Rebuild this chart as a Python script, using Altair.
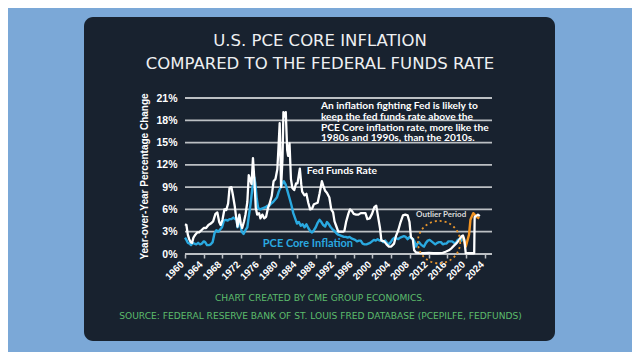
import altair as alt
import pandas as pd

# ---------------- data ----------------
ff_year = [1960.0, 1960.3, 1960.6, 1960.9, 1961.2, 1961.5, 1961.8, 1962.2, 1962.6, 1963.0,
           1963.5, 1964.0, 1964.5, 1965.0, 1965.5, 1966.0, 1966.5, 1966.9, 1967.3, 1967.6,
           1968.0, 1968.4, 1968.8, 1969.2, 1969.5, 1969.9, 1970.2, 1970.6, 1970.9, 1971.2,
           1971.6, 1971.9, 1972.2, 1972.6, 1972.9, 1973.3, 1973.6, 1973.9, 1974.2, 1974.5,
           1974.8, 1975.1, 1975.4, 1975.8, 1976.1, 1976.5, 1976.9, 1977.3, 1977.7, 1978.0,
           1978.5, 1978.9, 1979.3, 1979.7, 1979.9, 1980.2, 1980.5, 1980.8, 1981.0, 1981.3,
           1981.5, 1981.8, 1982.0, 1982.3, 1982.6, 1982.9, 1983.3, 1983.7, 1984.0, 1984.5,
           1984.8, 1985.0, 1985.5, 1985.9, 1986.3, 1986.7, 1987.1, 1987.5, 1987.9, 1988.3,
           1988.7, 1989.2, 1989.5, 1989.9, 1990.3, 1990.8, 1991.2, 1991.6, 1991.9, 1992.3,
           1992.7, 1993.2, 1993.7, 1994.0, 1994.4, 1994.9, 1995.2, 1995.6, 1996.0, 1996.5,
           1997.0, 1997.5, 1998.0, 1998.5, 1998.9, 1999.4, 1999.9, 2000.4, 2000.8, 2001.2,
           2001.6, 2001.9, 2002.5, 2003.0, 2003.5, 2004.0, 2004.6, 2005.0, 2005.5, 2006.0,
           2006.5, 2007.0, 2007.5, 2007.9, 2008.2, 2008.6, 2008.9, 2009.3, 2010.0, 2011.0,
           2012.0, 2013.0, 2014.0, 2015.0, 2015.6, 2016.3, 2016.9, 2017.5, 2018.0, 2018.5,
           2019.0, 2019.3, 2019.6, 2019.9, 2020.5, 2021.0, 2021.7, 2021.8, 2022.5, 2022.9]
ff_val = [4.0, 3.9, 2.6, 2.0, 1.6, 1.5, 2.2, 2.6, 2.9, 2.9,
          3.2, 3.5, 3.5, 3.9, 4.1, 4.4, 5.4, 5.6, 4.3, 3.9,
          4.6, 6.0, 5.9, 6.8, 8.9, 9.0, 8.0, 6.5, 5.0, 3.7,
          5.3, 4.1, 3.5, 4.4, 5.3, 7.0, 10.6, 10.0, 9.4, 12.9,
          10.0, 6.2, 5.3, 5.5, 4.8, 5.3, 4.8, 5.0, 6.2, 6.7,
          7.8, 9.8, 10.1, 11.4, 13.8, 17.6, 9.0, 12.8, 19.1, 18.5,
          19.1, 14.0, 13.2, 14.9, 10.1, 8.9, 8.6, 9.5, 9.5, 11.5,
          9.4, 8.4, 7.9, 8.1, 6.9, 6.0, 6.1, 6.7, 6.8, 6.9,
          8.1, 9.8, 9.2, 8.5, 8.2, 7.6, 6.0, 5.6, 4.4, 3.7,
          3.0, 3.0, 3.0, 3.1, 4.4, 5.5, 6.0, 5.8, 5.4, 5.3,
          5.3, 5.5, 5.5, 5.5, 4.7, 4.8, 5.4, 6.3, 6.5, 5.0,
          3.5, 1.8, 1.7, 1.3, 1.0, 1.0, 1.4, 2.4, 3.2, 4.3,
          5.2, 5.3, 5.2, 4.3, 2.3, 2.0, 0.5, 0.2, 0.15, 0.1,
          0.15, 0.1, 0.1, 0.15, 0.3, 0.5, 0.8, 1.2, 1.5, 1.9,
          2.4, 2.5, 1.9, 0.1, 0.1, 0.1, 0.1, 5.0, 5.3, 5.1]

pce_year = [1960.0, 1960.3, 1960.6, 1961.0, 1961.3, 1961.6, 1962.0, 1962.4, 1962.8, 1963.2,
            1963.6, 1964.0, 1964.3, 1964.7, 1965.1, 1965.5, 1965.9, 1966.3, 1966.7, 1967.1,
            1967.5, 1967.9, 1968.3, 1968.7, 1969.1, 1969.5, 1969.9, 1970.3, 1970.7, 1971.0,
            1971.2, 1971.5, 1971.8, 1972.1, 1972.5, 1972.9, 1973.3, 1973.6, 1974.0, 1974.4,
            1974.8, 1975.0, 1975.3, 1975.6, 1976.0, 1976.4, 1976.8, 1977.2, 1977.6, 1978.0,
            1978.4, 1978.8, 1979.2, 1979.6, 1980.0, 1980.4, 1980.8, 1981.1, 1981.5, 1981.9,
            1982.3, 1982.7, 1983.1, 1983.5, 1983.9, 1984.3, 1984.7, 1985.1, 1985.5, 1985.9,
            1986.3, 1986.7, 1987.1, 1987.5, 1987.9, 1988.3, 1988.7, 1989.1, 1989.5, 1989.9,
            1990.3, 1990.7, 1991.1, 1991.5, 1991.9, 1992.3, 1992.7, 1993.1, 1993.5, 1993.9,
            1994.3, 1994.7, 1995.1, 1995.5, 1995.9, 1996.3, 1996.7, 1997.1, 1997.5, 1997.9,
            1998.3, 1998.7, 1999.1, 1999.5, 1999.9, 2000.3, 2000.7, 2001.1, 2001.5, 2001.9,
            2002.3, 2002.7, 2003.1, 2003.5, 2003.9, 2004.3, 2004.7, 2005.1, 2005.5, 2005.9,
            2006.3, 2006.7, 2007.1, 2007.5, 2007.9, 2008.3, 2008.7, 2009.0, 2009.3, 2009.6,
            2009.9, 2010.3, 2010.7, 2011.0, 2011.4, 2011.8, 2012.2, 2012.6, 2013.0, 2013.4,
            2013.8, 2014.2, 2014.6, 2015.0, 2015.4, 2015.8, 2016.2, 2016.6, 2017.0, 2017.4,
            2017.8, 2018.2, 2018.6, 2019.0, 2019.3]
pce_val = [2.2, 1.9, 1.5, 1.4, 1.2, 1.5, 1.4, 1.3, 1.5, 1.3,
           1.4, 1.7, 1.6, 1.2, 1.2, 1.3, 1.6, 2.8, 3.2, 3.0,
           3.3, 3.6, 4.5, 4.6, 4.5, 4.7, 4.7, 4.9, 4.7, 4.8,
           3.6, 4.7, 4.0, 3.0, 2.7, 3.2, 3.6, 5.0, 6.8, 9.0,
           10.3, 9.5, 7.5, 6.2, 6.0, 6.1, 6.2, 6.3, 6.5, 6.5,
           6.8, 7.0, 7.3, 7.6, 8.4, 9.0, 9.5, 9.8, 9.3, 8.4,
           7.5, 6.6, 5.5, 4.8, 4.1, 4.3, 3.8, 4.0, 3.6, 4.0,
           3.5, 3.1, 2.9, 3.2, 3.6, 4.2, 4.6, 4.3, 3.9, 3.7,
           4.3, 4.0, 3.6, 3.3, 3.1, 2.8, 2.6, 2.5, 2.4, 2.3,
           2.3, 2.2, 2.3, 2.1, 2.0, 1.9, 1.7, 1.8, 1.8, 1.4,
           1.3, 1.3, 1.4, 1.5, 1.7, 1.9, 1.8, 2.0, 1.8, 1.9,
           1.6, 1.8, 1.5, 1.3, 1.6, 2.0, 2.2, 2.1, 2.0, 2.2,
           2.3, 2.4, 2.3, 2.0, 2.3, 2.1, 2.0, 1.6, 1.0, 1.4,
           1.6, 1.3, 1.1, 1.0, 1.5, 1.8, 1.9, 1.7, 1.5, 1.3,
           1.5, 1.6, 1.6, 1.3, 1.4, 1.4, 1.7, 1.7, 1.7, 1.5,
           1.5, 1.9, 2.0, 1.8, 2.3]

recent_year = [2019.3, 2019.9, 2020.6, 2020.9, 2021.5, 2022.2, 2022.8]
recent_val = [2.3, 1.0, 2.6, 4.6, 5.5, 5.0, 4.8]

grid_vals = [0, 3, 6, 9, 12, 15, 18, 21]
x_ticks = list(range(1960, 2025, 4))

title_lines = ["U.S. PCE CORE INFLATION", "COMPARED TO THE FEDERAL FUNDS RATE"]
note_lines = ["An inflation fighting Fed is likely to",
              "keep the fed funds rate above the",
              "PCE Core inflation rate, more like the",
              "1980s and 1990s, than the 2010s."]
footer_lines = ["CHART CREATED BY CME GROUP ECONOMICS.",
                "SOURCE: FEDERAL RESERVE BANK OF ST. LOUIS FRED DATABASE (PCEPILFE, FEDFUNDS)"]

# ---------------- chart ----------------
W, H = 307, 156
BG_OUT = "#7ba8d7"
PANEL = "#18222f"
WHITE = "#ffffff"
BLUE = "#2aa9e0"
ORANGE = "#f29422"
GREEN = "#5cbc6c"
GRID = "#bcc0c4"

xs = alt.Scale(domain=[1960, 2025.5], nice=False, zero=False)
ys = alt.Scale(domain=[0, 21], nice=False)

ff = pd.DataFrame({"year": ff_year, "value": ff_val})
pce = pd.DataFrame({"year": pce_year, "value": pce_val})
rec = pd.DataFrame({"year": recent_year, "value": recent_val})
grid = pd.DataFrame({"value": grid_vals})
ticks = pd.DataFrame({"year": x_ticks, "label": [str(t) for t in x_ticks]})

one = pd.DataFrame({"a": [0]})

x_axis = alt.Axis(values=x_ticks, labels=False,
                  domain=False, ticks=True, tickColor=GRID, tickSize=4, tickWidth=1.5,
                  grid=False, title=None, zindex=1)
y_axis = alt.Axis(values=grid_vals, labelExpr="datum.value + '%'", labelColor=WHITE,
                  labelFontWeight="bold", labelFontSize=10.5, labelFont="Liberation Sans",
                  domain=False, ticks=False, grid=False, labelPadding=8, labelOverlap=False,
                  title="Year-over-Year Percentage Change", titleColor=WHITE,
                  titleFontWeight="bold", titleFontSize=10, titleFont="Liberation Sans",
                  titlePadding=6, zindex=1)

X = lambda: alt.X("year:Q", scale=xs, axis=x_axis)
Y = lambda: alt.Y("value:Q", scale=ys, axis=y_axis)

panel = alt.Chart(one).mark_rect(color=PANEL, cornerRadius=9).encode(
    x=alt.value(-101), x2=alt.value(370), y=alt.value(-81), y2=alt.value(243)
)

gridlines = alt.Chart(grid).mark_rule(color=GRID, strokeWidth=1.8).encode(
    y=Y(), x=alt.value(0), x2=alt.value(W)
)

xlabels = alt.Chart(ticks).mark_text(angle=315, align="right", baseline="middle", color=WHITE,
                                     fontWeight="bold", fontSize=9.8, font="Liberation Sans",
                                     dx=-1.8, dy=-1.8).encode(
    x=X(), y=alt.value(H + 9), text="label:N"
)

ff_line = alt.Chart(ff).mark_line(color=WHITE, strokeWidth=2.3, strokeJoin="round").encode(
    x=X(), y=Y()
)
pce_line = alt.Chart(pce).mark_line(color=BLUE, strokeWidth=2.4, strokeJoin="round").encode(
    x=X(), y=Y()
)
rec_line = alt.Chart(rec).mark_line(color=ORANGE, strokeWidth=2.4, strokeJoin="round").encode(
    x=X(), y=Y()
)

circle = alt.Chart(one).mark_point(shape="circle", size=1800, filled=False, color="#e8962e",
                                   opacity=1, strokeWidth=1.8, strokeDash=[2, 3]).encode(
    x=alt.datum(2014.2, scale=xs, axis=x_axis), y=alt.datum(1.6, scale=ys, axis=y_axis)
)

def label(text, yr, val, color, size, weight="normal", font="Lato", align="left"):
    return alt.Chart(one).mark_text(text=text, color=color, fontSize=size, fontWeight=weight,
                                    font=font, align=align, baseline="middle").encode(
        x=alt.datum(yr, scale=xs, axis=x_axis), y=alt.datum(val, scale=ys, axis=y_axis)
    )

fed_lbl = label("Fed Funds Rate", 1986.0, 11.2, WHITE, 10.3, "bold")
pce_lbl = label("PCE Core Inflation", 1976.6, 1.4, BLUE, 11, "bold")
out_lbl = label("Outlier Period", 2009.3, 5.2, "#dcdcdc", 8, "bold")

note = alt.Chart(one).mark_text(text=note_lines, color=WHITE, fontSize=10.2, fontWeight="bold",
                                font="Lato", align="left", baseline="top", lineHeight=10.6).encode(
    x=alt.datum(1989.0, scale=xs, axis=x_axis), y=alt.datum(20.55, scale=ys, axis=y_axis)
)

TFONT = "DejaVu Sans"
t1 = alt.Chart(one).mark_text(text=title_lines[0], color="#eef0f2", fontSize=16.5, font=TFONT,
                              fontWeight="normal", align="center", baseline="middle").encode(
    x=alt.value(135), y=alt.value(-57))
t2 = alt.Chart(one).mark_text(text=title_lines[1], color="#eef0f2", fontSize=16.5, font=TFONT,
                              fontWeight="normal", align="center", baseline="middle").encode(
    x=alt.value(135), y=alt.value(-34))
f1 = alt.Chart(one).mark_text(text=footer_lines[0], color=GREEN, fontSize=9.1, font=TFONT,
                              fontWeight="normal", align="center", baseline="middle").encode(
    x=alt.value(135), y=alt.value(200))
f2 = alt.Chart(one).mark_text(text=footer_lines[1], color=GREEN, fontSize=9.1, font=TFONT,
                              fontWeight="normal", align="center", baseline="middle").encode(
    x=alt.value(135.5), y=alt.value(218))

chart = alt.layer(
    panel, gridlines, xlabels, pce_line, rec_line, ff_line, circle,
    fed_lbl, pce_lbl, out_lbl, note, t1, t2, f1, f2
).properties(
    width=W, height=H,
    autosize=alt.AutoSizeParams(type="none"),
    padding={"left": 177, "top": 90, "right": 140, "bottom": 98},
    background=BG_OUT,
).configure_view(stroke=None)

chart.save("out.html", embed_options={"renderer": "svg", "actions": False})
